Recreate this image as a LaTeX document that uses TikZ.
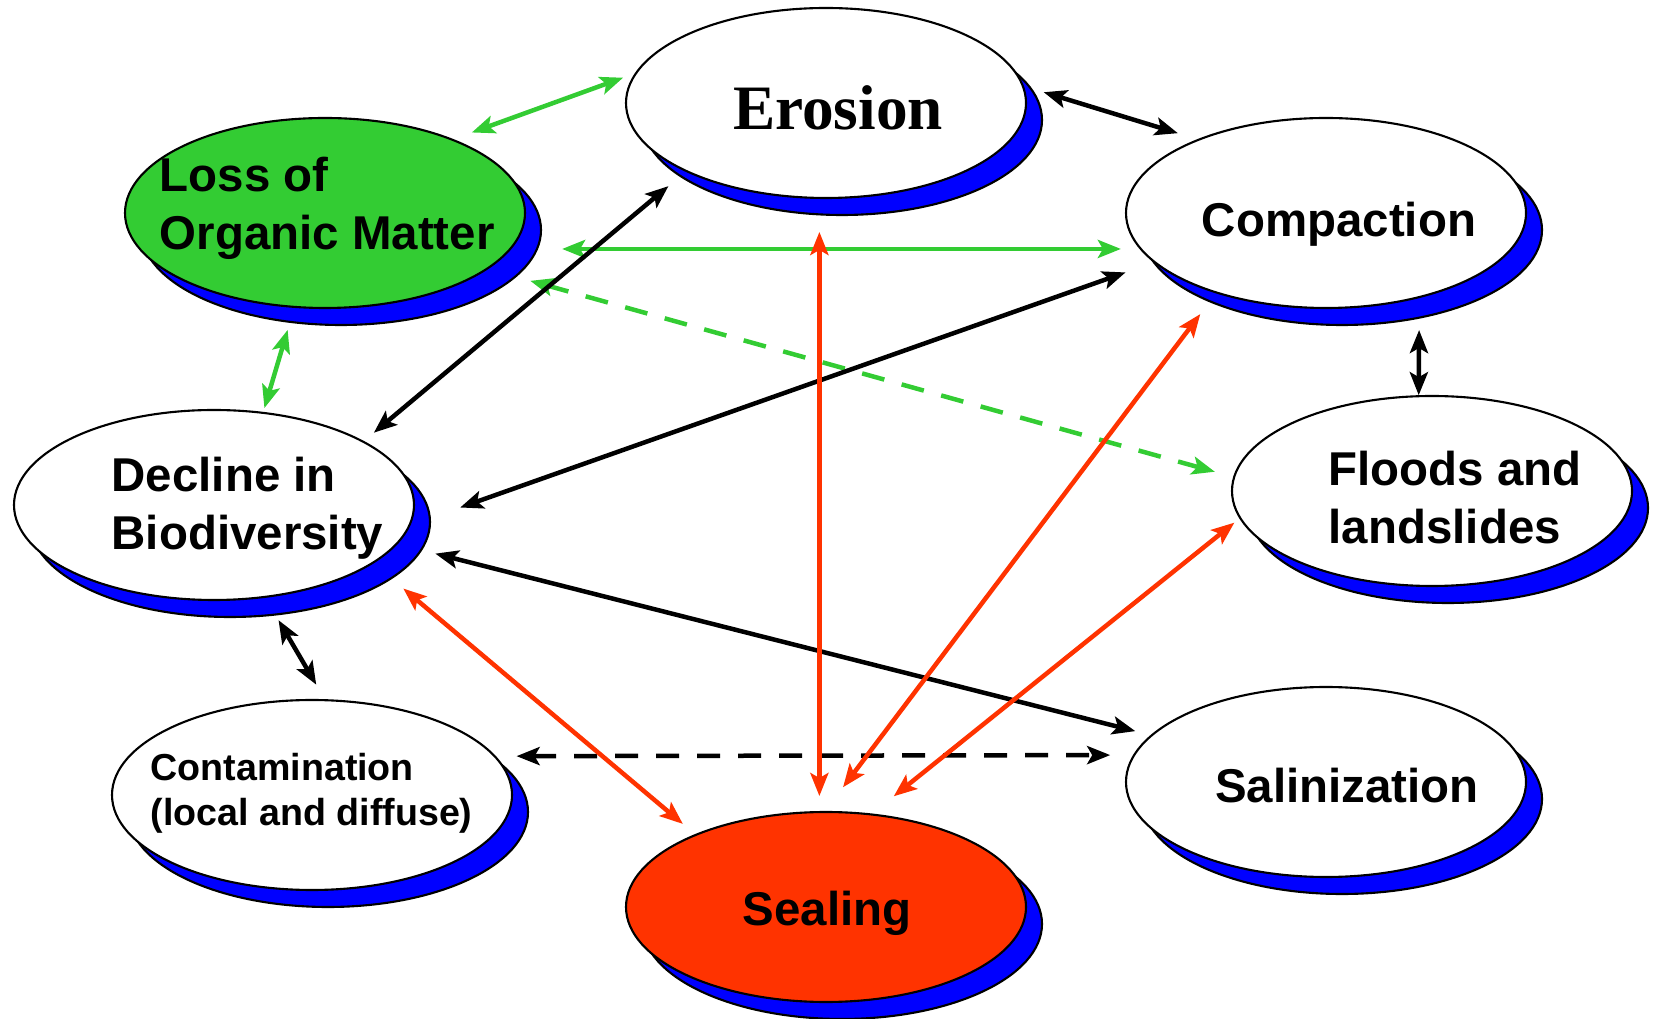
\documentclass[tikz,border=0pt]{standalone}
\usepackage{fontspec}
\setmainfont{Liberation Sans}
\newfontfamily\titlefont{Liberation Serif}
\usetikzlibrary{arrows.meta,shapes.geometric,shadows}
\definecolor{omgreen}{RGB}{51,204,51}
\definecolor{sealred}{RGB}{255,51,0}

\begin{document}
\begin{tikzpicture}[
	x=0.1mm,y=-0.1mm,
	>={Stealth[length=2.3mm,width=1.8mm,inset=0.5mm]},
	threat/.style={
		ellipse,draw,fill=white,line width=0.6pt,
		minimum width=40mm,minimum height=19mm,
		inner sep=0pt,outer sep=0pt,
		drop shadow={shadow xshift=1.6mm,shadow yshift=-1.7mm,
			fill=blue,draw=black,opacity=1}
	},
	threatname/.style={inner sep=0pt,font=\bfseries\fontsize{13.5}{16.5}\selectfont},
	link/.style={<->,line width=0.45mm},
	dashlink/.style={link,dash pattern=on 2.3mm off 1.8mm}
	]
	\useasboundingbox (0,0) rectangle (1653,1019);
	
	\node[threat] (ero) at (826,103) {};
	\node[threat,fill=omgreen] (lom) at (325,213) {};
	\node[threat] (com) at (1326,213) {};
	\node[threat] (dec) at (214,505) {};
	\node[threat] (flo) at (1432,491) {};
	\node[threat] (con) at (312,795) {};
	\node[threat] (sal) at (1326,782) {};
	\node[threat,fill=sealred] (sea) at (826,907) {};
	
	\node[threatname,anchor=base,font=\titlefont\bfseries\fontsize{18}{20}\selectfont]
	(erotxt) at ([shift={(12,27)}]ero.center) {Erosion};
	\node[threatname,anchor=north west,align=left]
	(lomtxt) at ([shift={(-166,-57)}]lom.center) {Loss of\\Organic Matter};
	\node[threatname,anchor=base]
	(comtxt) at ([shift={(13,24)}]com.center) {Compaction};
	\node[threatname,anchor=north west,align=left]
	(dectxt) at ([shift={(-103,-49)}]dec.center) {Decline in\\Biodiversity};
	\node[threatname,anchor=north west,align=left]
	(flotxt) at ([shift={(-104,-41)}]flo.center) {Floods and\\landslides};
	\node[threatname,anchor=north west,align=left,font=\bfseries\fontsize{10.7}{12.6}\selectfont]
	(contxt) at ([shift={(-162,-42)}]con.center) {Contamination\\(local and diffuse)};
	\node[threatname,anchor=base]
	(saltxt) at ([shift={(21,21)}]sal.center) {Salinization};
	\node[threatname,anchor=base]
	(seatxt) at ([shift={(1,18)}]sea.center) {Sealing};
	
	% organic matter links
	\draw[link,omgreen,shorten <=2.1mm,shorten >=1.4mm] (lom.30) -- (ero.171);
	\draw[link,omgreen,shorten <=5.2mm,shorten >=2mm] (lom.-11) -- (com.191);
	\draw[dashlink,omgreen,shorten <=4.5mm,shorten >=2mm] (lom.-19) -- (flo.176);
	\draw[link,omgreen,shorten <=2.4mm,shorten >=0.5mm] (lom.-108) -- (dec.62);
	
	% black links
	\draw[link,shorten <=2.2mm,shorten >=2.2mm] (ero.5) -- (com.150);
	\draw[link,shorten <=2.35mm,shorten >=1.4mm] (ero.206) -- (dec.23);
	\draw[link,shorten <=3.1mm,shorten >=5.4mm] (com.196) -- (dec.-6);
	\draw[link,shorten <=3.3mm,shorten >=0.1mm] (com.-42) -- (flo.98);
	\draw[link,shorten <=4mm,shorten >=1.7mm] (dec.-12) -- (sal.165);
	\draw[link,shorten <=2.7mm,shorten >=1.8mm] (dec.-61) -- (con.82);
	\draw[dashlink,shorten <=2.2mm,shorten >=2.4mm] (con.12) -- (sal.172);
	
	% sealing links
	\draw[link,sealred,shorten <=3.4mm,shorten >=1.6mm] (ero.-94) -- (sea.94);
	\draw[link,sealred,shorten <=4mm,shorten >=1.7mm] (dec.-20) -- (sea.151);
	\draw[link,sealred,shorten <=2.7mm,shorten >=3.1mm] (com.216) -- (sea.91);
	\draw[link,sealred,shorten <=0.75mm,shorten >=2.9mm] (flo.188) -- (sea.64);
	
\end{tikzpicture}
\end{document}
